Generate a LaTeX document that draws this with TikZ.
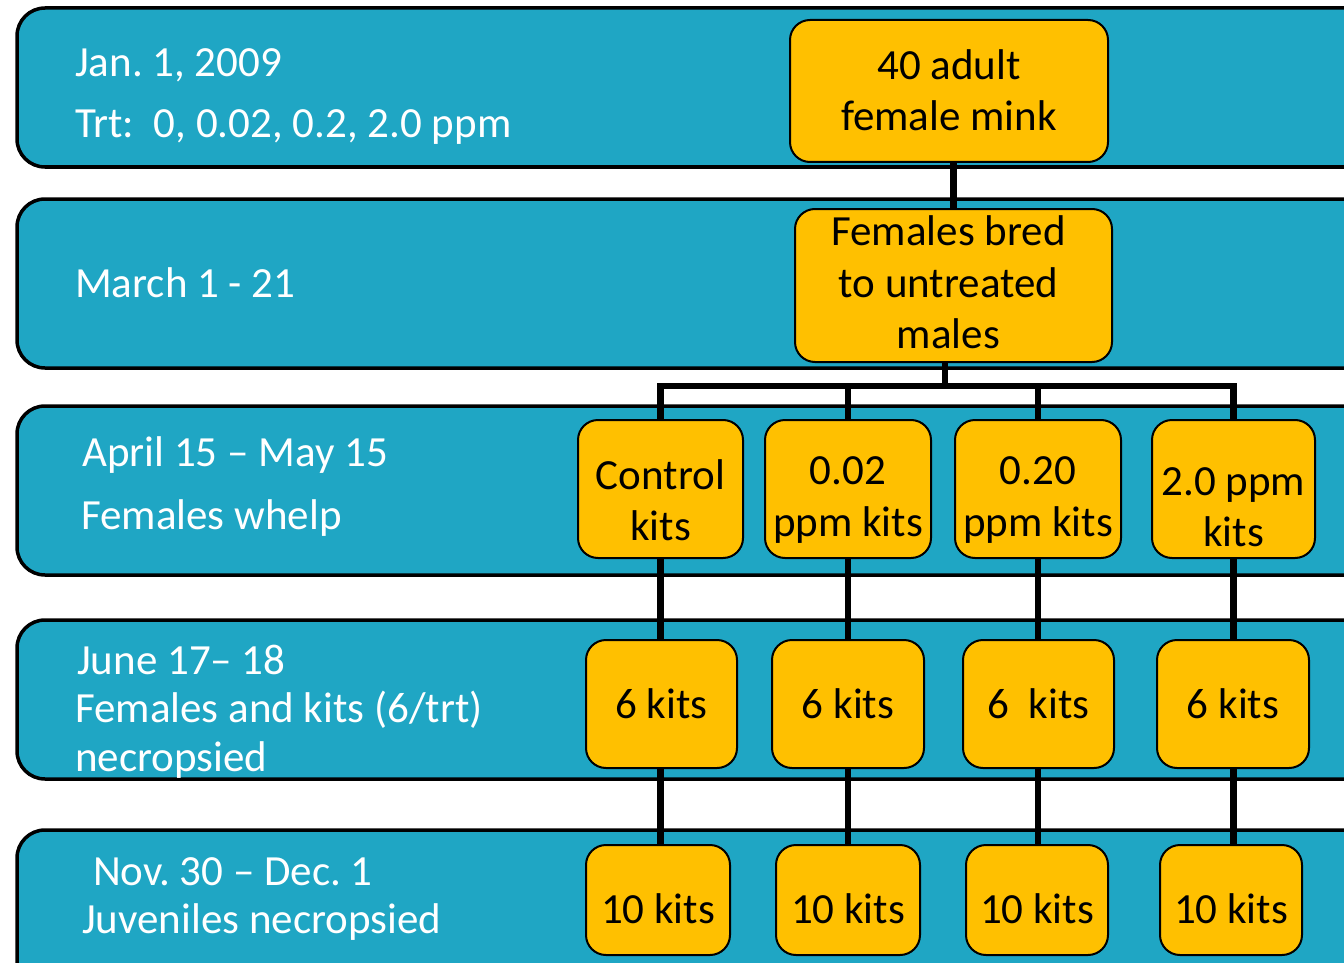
\documentclass[tikz,border=0pt]{standalone}
\usepackage{fontspec}
\setmainfont{Carlito}
\frenchspacing
\pgfdeclarelayer{bandlayer}
\pgfdeclarelayer{linelayer}
\pgfsetlayers{bandlayer,linelayer,main}
\definecolor{bandblue}{RGB}{31,166,196}
\definecolor{boxgold}{RGB}{255,192,0}
\newcommand\boxfont{\fontsize{43}{51.5}\selectfont}
\newcommand\lblfont{\fontsize{43}{51}\selectfont}
\tikzset{
  band/.style={draw=black, line width=3.5pt, fill=bandblue, rounded corners=28pt},
  gbox/.style={draw=black, line width=2pt, fill=boxgold, rounded corners=20pt, inner sep=0pt},
  gtext/.style={align=center, inner sep=0pt, font=\boxfont},
  conn/.style={draw=black, line width=6.5pt},
  lbl/.style={anchor=base west, text=white, inner sep=0pt, font=\lblfont},
}
\begin{document}
\begin{tikzpicture}[x=1pt,y=-1pt]
\useasboundingbox (0,0) rectangle (1344,963);
\clip (0,0) rectangle (1344,963);
% bands
\begin{pgfonlayer}{bandlayer}
\draw[band] (17,8) rectangle (1372,167);
\draw[band] (17,199) rectangle (1372,368);
\draw[band] (17,406) rectangle (1372,575);
\draw[band] (17,620) rectangle (1372,779);
\draw[band] (17,830) rectangle (1372,1000);
\end{pgfonlayer}
% labels
\node[lbl] (l1a) at (75,77) {Jan. 1, 2009};
\node[lbl] (l1b) at (75,138) {Trt:\ \ 0, 0.02, 0.2, 2.0 ppm};
\node[lbl] (l2) at (75,297) {March 1 - 21};
\node[lbl] (l3a) at (82,466) {April 15 – May 15};
\node[lbl] (l3b) at (81,529) {Females whelp};
\node[lbl] (l4a) at (77,674) {June 17– 18};
\node[lbl] (l4b) at (75,722) {Females and kits (6/trt)};
\node[lbl] (l4c) at (75,771) {necropsied};
\node[lbl] (l5a) at (93,885) {Nov. 30 – Dec. 1};
\node[lbl] (l5b) at (82,933) {Juveniles necropsied};
% boxes
\node[gbox, minimum width=318pt, minimum height=142pt] (mink) at (949,91) {};
\node[gbox, minimum width=317pt, minimum height=153pt] (bred) at (953.5,285.5) {};
\node[gbox, minimum width=165pt, minimum height=138pt] (c1) at (660.5,489) {};
\node[gbox, minimum width=166pt, minimum height=138pt] (c2) at (848,489) {};
\node[gbox, minimum width=166pt, minimum height=138pt] (c3) at (1038,489) {};
\node[gbox, minimum width=163pt, minimum height=138pt] (c4) at (1233.5,489) {};
\node[gbox, minimum width=151pt, minimum height=128pt] (k1) at (661.5,704) {};
\node[gbox, minimum width=152pt, minimum height=128pt] (k2) at (848,704) {};
\node[gbox, minimum width=151pt, minimum height=128pt] (k3) at (1038.5,704) {};
\node[gbox, minimum width=152pt, minimum height=128pt] (k4) at (1233,704) {};
\node[gbox, minimum width=144pt, minimum height=110pt] (t1) at (658,900) {};
\node[gbox, minimum width=144pt, minimum height=110pt] (t2) at (848,900) {};
\node[gbox, minimum width=142pt, minimum height=110pt] (t3) at (1037,900) {};
\node[gbox, minimum width=142pt, minimum height=110pt] (t4) at (1231,900) {};
% box texts
\node[gtext] (minkt) at ([yshift=1pt]mink.center) {40 adult\\female mink};
\node[gtext] (bredt) at ([xshift=-5pt,yshift=3pt]bred.center) {Females bred\\to untreated\\males};
\node[gtext] (c1t) at ([yshift=-11pt]c1.center) {Control\\kits};
\node[gtext] (c2t) at ([yshift=-11pt]c2.center) {0.02\\ppm kits};
\node[gtext] (c3t) at ([yshift=-11pt]c3.center) {0.20\\ppm kits};
\node[gtext] (c4t) at ([yshift=-18pt]c4.center) {2.0 ppm\\kits};
\node[gtext] (k1t) at (k1.center) {6 kits};
\node[gtext] (k2t) at (k2.center) {6 kits};
\node[gtext] (k3t) at (k3.center) {6\ \ kits};
\node[gtext] (k4t) at (k4.center) {6 kits};
\node[gtext] (t1t) at ([yshift=-9pt]t1.center) {10 kits};
\node[gtext] (t2t) at ([yshift=-9pt]t2.center) {10 kits};
\node[gtext] (t3t) at ([yshift=-9pt]t3.center) {10 kits};
\node[gtext] (t4t) at ([yshift=-9pt]t4.center) {10 kits};
\coordinate (bar) at (945,386);
% connectors
\begin{pgfonlayer}{linelayer}
\draw[conn] (bred.north |- mink.south) -- (bred.north);
\draw[conn] (bar |- bred.south) -- (bar);
\draw[conn] (bar) -| (c1.north);
\draw[conn] (bar) -| (c2.north);
\draw[conn] (bar) -| (c3.north);
\draw[conn] (bar) -| (c4.north);
\draw[conn] (c1.south) -- (c1.south |- k1.north);
\draw[conn] (c2.south) -- (c2.south |- k2.north);
\draw[conn] (c3.south) -- (c3.south |- k3.north);
\draw[conn] (c4.south) -- (c4.south |- k4.north);
\draw[conn] (c1.south |- k1.south) -- (c1.south |- t1.north);
\draw[conn] (c2.south |- k2.south) -- (c2.south |- t2.north);
\draw[conn] (c3.south |- k3.south) -- (c3.south |- t3.north);
\draw[conn] (c4.south |- k4.south) -- (c4.south |- t4.north);
\end{pgfonlayer}
\end{tikzpicture}
\end{document}
